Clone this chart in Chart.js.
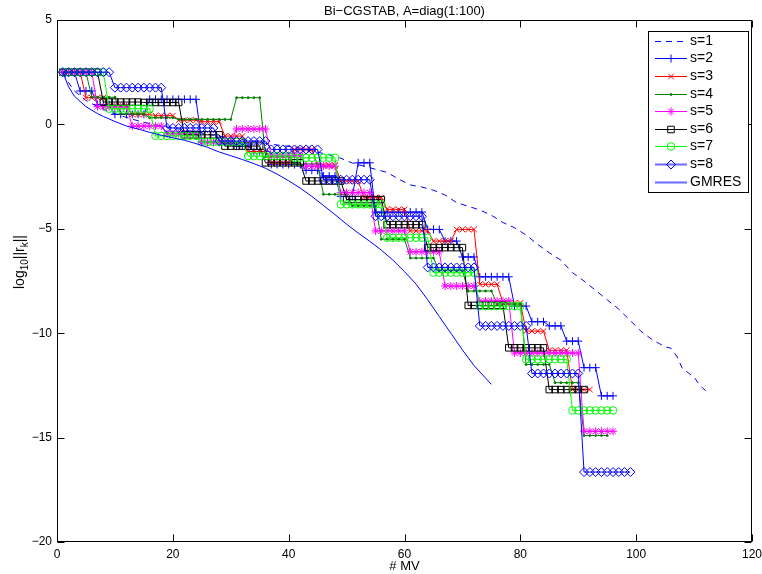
<!DOCTYPE html>
<html>
<head>
<meta charset="utf-8">
<title>Bi-CGSTAB, A=diag(1:100)</title>
<script src="https://cdn.jsdelivr.net/npm/chart.js@4.4.1/dist/chart.umd.min.js"></script>
<style>
  html, body { margin: 0; padding: 0; background: #ffffff; }
  canvas { display: block; }
</style>
</head>
<body>
<canvas id="chart" width="762" height="574"></canvas>
<script>
// log10 of the residual norm, one value per matrix-vector product (MV = 1, 2, ...)

// s = 1: plotted as a dashed curve through these (MV, log10 residual) pairs
const mvS1 = [1, 2, 3, 5, 7, 9, 11, 13, 15, 17, 19, 21, 23, 25, 27, 29, 31, 33, 35, 37,
  39, 41, 43, 45, 47, 49, 51, 53, 55, 57, 59, 61, 63, 65, 67, 69, 71, 73, 75, 77,
  79, 81, 83, 85, 87, 89, 91, 93, 95, 97, 99, 101, 103, 105, 106, 107, 108, 109, 110, 111, 112];
const resS1 = [2.5, 2.0, 1.6, 1.15, 0.85, 0.6, 0.42, 0.25, 0.1, -0.02, -0.12, -0.22, -0.32, -0.42, -0.52, -0.6, -0.68, -0.76, -0.85, -0.95,
  -1.02, -1.08, -1.2, -1.33, -1.46, -1.62, -1.85, -2.0, -2.15, -2.3, -2.62, -2.9, -3.0, -3.15, -3.38, -3.75, -3.92, -4.1, -4.35, -4.7,
  -4.95, -5.3, -5.75, -6.15, -6.5, -7.1, -7.5, -7.95, -8.4, -8.85, -9.4, -9.95, -10.35, -10.65, -10.72, -11.1, -11.7, -11.9, -12.1, -12.5, -12.75];

// s = 2 ... 8: value at MV = 1, 2, 3, ...
const resS2 = [
  2.5, 2.5, 2.5, 1.6, 1.6, 1.6, 0.95, 0.95, 0.95, 0.48,
  0.48, 0.48, 0.48, 0.48, 0.48, 1.2, 1.2, 1.2, 1.2, 1.2,
  1.2, 1.2, 1.2, 1.2, -0.85, -0.85, -0.85, -0.85, -0.85, -0.85,
  -1.04, -1.04, -1.04, -1.3, -1.3, -1.3, -1.92, -1.92, -1.92, -1.92,
  -1.92, -1.92, -2.2, -2.2, -2.2, -2.47, -2.47, -2.47, -3.45, -3.45,
  -3.45, -1.84, -1.84, -1.84, -4.2, -4.2, -4.2, -4.2, -4.2, -4.2,
  -4.2, -4.2, -4.2, -5.03, -5.03, -5.03, -5.59, -5.59, -5.59, -6.35,
  -6.35, -6.35, -7.3, -7.3, -7.3, -7.3, -7.3, -7.3, -8.7, -8.7,
  -8.7, -9.45, -9.45, -9.45, -9.65, -9.65, -9.65, -10.38, -10.38, -10.38,
  -11.65, -11.65, -11.65, -13.0, -13.0, -13.0
];
const resS3 = [
  2.5, 2.5, 2.5, 2.5, 1.28, 1.28, 1.28, 1.28, 0.9, 0.9,
  0.9, 0.9, 0.48, 0.48, 0.48, 0.48, 0.42, 0.42, 0.42, 0.42,
  0.2, 0.2, 0.2, 0.2, 0.13, 0.13, 0.13, 0.13, -0.56, -0.56,
  -0.56, -0.56, -1.3, -1.3, -1.3, -1.3, -1.84, -1.84, -1.84, -1.84,
  -1.2, -1.2, -1.2, -1.2, -1.95, -1.95, -1.95, -1.95, -2.71, -2.71,
  -2.71, -2.71, -3.5, -3.5, -3.5, -3.5, -4.07, -4.07, -4.07, -4.07,
  -5.1, -5.1, -5.1, -5.1, -5.59, -5.59, -5.59, -5.59, -5.03, -5.03,
  -5.03, -5.03, -7.66, -7.66, -7.66, -7.66, -8.55, -8.55, -8.55, -8.55,
  -9.9, -9.9, -9.9, -9.9, -10.82, -10.82, -10.82, -10.82, -12.7, -12.7,
  -12.7, -12.7
];
const resS4 = [
  2.5, 2.5, 2.5, 2.5, 2.5, 1.3, 1.3, 1.3, 1.3, 1.3,
  0.5, 0.5, 0.5, 0.5, 0.5, 0.32, 0.32, 0.32, 0.32, 0.32,
  0.24, 0.24, 0.24, 0.24, 0.24, 0.24, 0.24, 0.24, 0.24, 0.24,
  1.28, 1.28, 1.28, 1.28, 1.28, -1.55, -1.55, -1.55, -1.55, -1.55,
  -1.9, -1.9, -1.9, -1.9, -1.9, -3.35, -3.35, -3.35, -3.35, -3.35,
  -3.9, -3.9, -3.9, -3.9, -3.9, -5.5, -5.5, -5.5, -5.5, -5.5,
  -6.4, -6.4, -6.4, -6.4, -6.4, -7.0, -7.0, -7.0, -7.0, -7.0,
  -7.98, -7.98, -7.98, -7.98, -7.98, -8.6, -8.6, -8.6, -8.6, -8.6,
  -11.5, -11.5, -11.5, -11.5, -11.5, -12.37, -12.37, -12.37, -12.37, -12.37,
  -14.9, -14.9, -14.9, -14.9, -14.9
];
const resS5 = [
  2.5, 2.5, 2.5, 2.5, 2.5, 2.5, 0.85, 0.85, 0.85, 0.85,
  0.85, 0.85, -0.08, -0.08, -0.08, -0.08, -0.08, -0.08, -0.45, -0.45,
  -0.45, -0.45, -0.45, -0.45, -0.85, -0.85, -0.85, -0.85, -0.85, -0.85,
  -0.22, -0.22, -0.22, -0.22, -0.22, -0.22, -1.5, -1.5, -1.5, -1.5,
  -1.5, -1.5, -2.0, -2.0, -2.0, -2.0, -2.0, -2.0, -3.27, -3.27,
  -3.27, -3.27, -3.27, -3.27, -5.1, -5.1, -5.1, -5.1, -5.1, -5.1,
  -6.1, -6.1, -6.1, -6.1, -6.1, -6.1, -7.74, -7.74, -7.74, -7.74,
  -7.74, -7.74, -8.46, -8.46, -8.46, -8.46, -8.46, -8.46, -10.95, -10.95,
  -10.95, -10.95, -10.95, -10.95, -10.95, -10.95, -10.95, -10.95, -10.95, -10.95,
  -14.7, -14.7, -14.7, -14.7, -14.7, -14.7
];
const resS6 = [
  2.5, 2.5, 2.5, 2.5, 2.5, 2.5, 2.5, 1.07, 1.07, 1.07,
  1.07, 1.07, 1.07, 1.07, 1.05, 1.05, 1.05, 1.05, 1.05, 1.05,
  1.05, -0.5, -0.5, -0.5, -0.5, -0.5, -0.5, -0.5, -1.04, -1.04,
  -1.04, -1.04, -1.04, -1.04, -1.04, -1.84, -1.84, -1.84, -1.84, -1.84,
  -1.84, -1.84, -2.71, -2.71, -2.71, -2.71, -2.71, -2.71, -2.71, -3.6,
  -3.6, -3.6, -3.6, -3.6, -3.6, -3.6, -4.8, -4.8, -4.8, -4.8,
  -4.8, -4.8, -4.8, -5.9, -5.9, -5.9, -5.9, -5.9, -5.9, -5.9,
  -8.67, -8.67, -8.67, -8.67, -8.67, -8.67, -8.67, -10.7, -10.7, -10.7,
  -10.7, -10.7, -10.7, -10.7, -12.7, -12.7, -12.7, -12.7, -12.7, -12.7,
  -12.7
];
const resS7 = [
  2.5, 2.5, 2.5, 2.5, 2.5, 2.5, 2.5, 2.5, 0.75, 0.75,
  0.75, 0.75, 0.75, 0.75, 0.75, 0.75, -0.55, -0.55, -0.55, -0.55,
  -0.55, -0.55, -0.55, -0.55, -0.84, -0.84, -0.84, -0.84, -0.84, -0.84,
  -0.84, -0.84, -1.52, -1.52, -1.52, -1.52, -1.52, -1.52, -1.52, -1.52,
  -1.6, -1.6, -1.6, -1.6, -1.6, -1.6, -1.6, -1.6, -3.83, -3.83,
  -3.83, -3.83, -3.83, -3.83, -3.83, -3.83, -5.43, -5.43, -5.43, -5.43,
  -5.43, -5.43, -5.43, -5.43, -7.1, -7.1, -7.1, -7.1, -7.1, -7.1,
  -7.1, -7.1, -8.7, -8.7, -8.7, -8.7, -8.7, -8.7, -8.7, -8.7,
  -11.25, -11.25, -11.25, -11.25, -11.25, -11.25, -11.25, -11.25, -13.7, -13.7,
  -13.7, -13.7, -13.7, -13.7, -13.7, -13.7
];
const resS8 = [
  2.5, 2.5, 2.5, 2.5, 2.5, 2.5, 2.5, 2.5, 2.5, 1.76,
  1.76, 1.76, 1.76, 1.76, 1.76, 1.76, 1.76, 1.76, -0.17, -0.17,
  -0.17, -0.17, -0.17, -0.17, -0.17, -0.17, -0.17, -0.8, -0.8, -0.8,
  -0.8, -0.8, -0.8, -0.8, -0.8, -0.8, -1.2, -1.2, -1.2, -1.2,
  -1.2, -1.2, -1.2, -1.2, -1.2, -2.65, -2.65, -2.65, -2.65, -2.65,
  -2.65, -2.65, -2.65, -2.65, -4.4, -4.4, -4.4, -4.4, -4.4, -4.4,
  -4.4, -4.4, -4.4, -6.85, -6.85, -6.85, -6.85, -6.85, -6.85, -6.85,
  -6.85, -6.85, -9.65, -9.65, -9.65, -9.65, -9.65, -9.65, -9.65, -9.65,
  -9.65, -11.93, -11.93, -11.93, -11.93, -11.93, -11.93, -11.93, -11.93, -11.93,
  -16.65, -16.65, -16.65, -16.65, -16.65, -16.65, -16.65, -16.65, -16.65
];

// GMRES reference curve
const mvGmres = [1, 2, 3, 4, 5, 6, 7, 8, 10, 12, 14, 16, 18, 20, 22, 24, 26, 28, 30, 32,
  34, 36, 38, 40, 42, 44, 46, 48, 50, 52, 54, 56, 58, 60, 62, 64, 66, 68, 70, 72, 74, 75];
const resGmres = [2.5, 1.8, 1.35, 1.1, 0.85, 0.68, 0.52, 0.38, 0.14, -0.08, -0.22, -0.38, -0.52, -0.64, -0.76, -0.92, -1.1, -1.32, -1.5, -1.68,
  -1.88, -2.1, -2.38, -2.7, -3.05, -3.45, -3.88, -4.32, -4.78, -5.2, -5.6, -6.02, -6.5, -7.05, -7.65, -8.4, -9.2, -10.0, -10.8, -11.55, -12.15, -12.45];

const seriesLabels = ['s=1', 's=2', 's=3', 's=4', 's=5', 's=6', 's=7', 's=8', 'GMRES'];
const xTickStep = 20;
const yTickStep = 5;

const FONT = "'Liberation Sans', Arial, Helvetica, sans-serif";
const BLUE = '#0000ff', RED = '#ff0000', DKGREEN = '#008000', MAGENTA = '#ff00ff', BLACK = '#000000', GREEN = '#00ff00';
const NONE = 'rgba(0,0,0,0)';

const byMV = res => res.map((y, i) => ({ x: i + 1, y }));
const pairs = (xs, ys) => xs.map((x, i) => ({ x, y: ys[i] }));

function series(label, data, color, style, radius, extra) {
  return Object.assign({
    label, data,
    borderColor: color, borderWidth: 1,
    pointStyle: style, pointRadius: radius, pointHoverRadius: radius,
    pointBorderColor: color, pointBackgroundColor: NONE, pointBorderWidth: 1,
    fill: false, tension: 0, spanGaps: true
  }, extra || {});
}

const datasets = [
  series(seriesLabels[0], pairs(mvS1, resS1), BLUE, false, 0, { borderDash: [6, 5], order: 8 }),
  series(seriesLabels[1], byMV(resS2), BLUE, 'cross', 4, { order: 7 }),
  series(seriesLabels[2], byMV(resS3), RED, 'crossRot', 4, { order: 6 }),
  series(seriesLabels[3], byMV(resS4), DKGREEN, 'circle', 1, { pointBackgroundColor: DKGREEN, order: 5 }),
  series(seriesLabels[4], byMV(resS5), MAGENTA, 'star', 4, { order: 4 }),
  series(seriesLabels[5], byMV(resS6), BLACK, 'rect', 4.6, { order: 3 }),
  series(seriesLabels[6], byMV(resS7), GREEN, 'circle', 3.8, { order: 2 }),
  series(seriesLabels[7], byMV(resS8), BLUE, 'rectRot', 4.5, { order: 1 }),
  series(seriesLabels[8], pairs(mvGmres, resGmres), BLUE, false, 0, { order: 0 })
];

// legend samples of the last two entries are drawn a little heavier and lighter
const legendLineStyle = { 7: ['#6a6aff', 2], 8: ['#6a6aff', 2] };

const minus = v => String(v).replace('-', '\u2212');

// Axes box, inward ticks, titles and the boxed legend
const frame = {
  id: 'frame',
  afterDraw(chart) {
    const { ctx, chartArea: a, scales } = chart;
    const L = Math.round(a.left) + 0.5, R = Math.round(a.right) - 0.5;
    const T = Math.round(a.top) + 0.5, B = Math.round(a.bottom) - 0.5;
    const tl = 7;
    ctx.save();
    ctx.strokeStyle = '#000'; ctx.lineWidth = 1;
    ctx.beginPath();
    scales.x.ticks.forEach(t => {
      const p = Math.round(scales.x.getPixelForValue(t.value)) + 0.5;
      ctx.moveTo(p, B); ctx.lineTo(p, B - tl);
      ctx.moveTo(p, T); ctx.lineTo(p, T + tl);
    });
    scales.y.ticks.forEach(t => {
      const p = Math.round(scales.y.getPixelForValue(t.value)) + 0.5;
      ctx.moveTo(L, p); ctx.lineTo(L + tl, p);
      ctx.moveTo(R, p); ctx.lineTo(R - tl, p);
    });
    ctx.stroke();
    ctx.strokeRect(L, T, R - L, B - T);

    // title and x label
    ctx.fillStyle = '#000';
    ctx.textAlign = 'center'; ctx.textBaseline = 'middle';
    ctx.font = '13px ' + FONT;
    ctx.fillText('Bi\u2212CGSTAB, A=diag(1:100)', (a.left + a.right) / 2, 11);
    ctx.fillText('# MV', (a.left + a.right) / 2, 566);

    // y label: log10||rk|| with subscripts
    ctx.save();
    ctx.translate(19, 262);
    ctx.rotate(-Math.PI / 2);
    const parts = [['log', 14, 0], ['10', 10, 4], ['||r', 14, 0], ['k', 10, 4], ['||', 14, 0]];
    let total = 0;
    parts.forEach(p => { ctx.font = p[1] + 'px ' + FONT; total += ctx.measureText(p[0]).width; });
    let cx = -total / 2;
    ctx.textAlign = 'left'; ctx.textBaseline = 'alphabetic';
    parts.forEach(p => {
      ctx.font = p[1] + 'px ' + FONT;
      ctx.fillText(p[0], cx, 5 + p[2]);
      cx += ctx.measureText(p[0]).width;
    });
    ctx.restore();

    // legend
    const lx0 = 648.5, ly0 = 31.5, lx1 = 748.5, ly1 = 192.5;
    ctx.fillStyle = '#fff';
    ctx.fillRect(lx0, ly0, lx1 - lx0, ly1 - ly0);
    ctx.strokeStyle = '#000';
    ctx.strokeRect(lx0, ly0, lx1 - lx0, ly1 - ly0);
    ctx.font = '14px ' + FONT;
    ctx.textAlign = 'left'; ctx.textBaseline = 'middle';
    chart.data.datasets.forEach((ds, i) => {
      const yy = Math.round(40.7 + i * 17.6) + 0.5;
      const ls = legendLineStyle[i] || [ds.borderColor, 1];
      ctx.save();
      ctx.strokeStyle = ls[0]; ctx.lineWidth = ls[1];
      ctx.setLineDash(ds.borderDash || []);
      ctx.beginPath(); ctx.moveTo(655, yy); ctx.lineTo(687, yy); ctx.stroke();
      ctx.setLineDash([]);
      if (ds.pointStyle && ds.pointRadius > 0) {
        ctx.strokeStyle = ds.pointBorderColor;
        ctx.fillStyle = ds.pointBackgroundColor;
        ctx.lineWidth = 1;
        Chart.helpers.drawPoint(ctx, { pointStyle: ds.pointStyle, radius: ds.pointRadius, rotation: 0, borderWidth: 1 }, 671, yy);
      }
      ctx.restore();
      ctx.fillStyle = '#000';
      ctx.fillText(ds.label, 690, yy);
    });
    ctx.restore();
  }
};

new Chart(document.getElementById('chart'), {
  type: 'line',
  data: { datasets },
  options: {
    responsive: false,
    devicePixelRatio: 1,
    animation: false,
    events: [],
    layout: { padding: { top: 20, right: 10, left: 0, bottom: 0 } },
    plugins: { legend: { display: false }, title: { display: false }, tooltip: { enabled: false } },
    scales: {
      x: {
        type: 'linear', min: 0, max: 120,
        grid: { display: false, drawTicks: false },
        border: { display: false },
        ticks: { stepSize: xTickStep, color: '#000', padding: 5, font: { family: FONT, size: 12 }, maxRotation: 0 },
        afterFit: s => { s.height = 32; s.paddingLeft = 0; s.paddingRight = 0; }
      },
      y: {
        type: 'linear', min: -20, max: 5,
        grid: { display: false, drawTicks: false },
        border: { display: false },
        ticks: { stepSize: yTickStep, color: '#000', padding: 5, font: { family: FONT, size: 12 }, callback: v => minus(v) },
        afterFit: s => { s.width = 57; s.paddingTop = 0; s.paddingBottom = 0; }
      }
    }
  },
  plugins: [frame]
});
</script>
</body>
</html>
